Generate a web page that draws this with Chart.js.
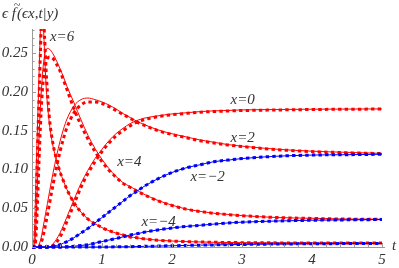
<!DOCTYPE html>
<html>
<head>
<meta charset="utf-8">
<script src="https://cdn.jsdelivr.net/npm/chart.js@4.4.1/dist/chart.umd.min.js"></script>
<style>
  html, body { margin: 0; padding: 0; background: #fff; }
  #wrap { position: relative; width: 399px; height: 268px; }
</style>
</head>
<body>
<div id="wrap"><canvas id="c"></canvas></div>
<script>
// time grid (t)
var T = [0, 0.02, 0.04, 0.06, 0.08, 0.1, 0.12, 0.14, 0.16, 0.18, 0.2, 0.22, 0.25, 0.3, 0.35, 0.4, 0.45, 0.5,
         0.6, 0.7, 0.8, 0.9, 1.0, 1.1, 1.2, 1.3, 1.4, 1.5, 1.6, 1.8, 2.0, 2.2, 2.4, 2.6, 2.8, 3.0, 3.5, 4.0, 4.5, 5.0];

// thin solid (exact) and thick dotted (approx) curves
var x6Exact  = [0, 0, 0.03, 0.10, 0.16, 0.22, 0.28, 0.31, 0.29, 0.25, 0.21, 0.185, 0.158, 0.130, 0.112, 0.097, 0.085, 0.074,
                0.057, 0.045, 0.036, 0.030, 0.025, 0.021, 0.018, 0.0155, 0.013, 0.0118, 0.0105, 0.0088, 0.0077, 0.0070, 0.0065, 0.0061, 0.0058, 0.0056, 0.0053, 0.0051, 0.0050, 0.0050];
var x6Approx = [0, 0, 0.01, 0.06, 0.13, 0.19, 0.25, 0.30, 0.30, 0.27, 0.23, 0.20, 0.165, 0.133, 0.113, 0.097, 0.085, 0.074,
                0.057, 0.045, 0.036, 0.030, 0.025, 0.021, 0.018, 0.0155, 0.013, 0.0118, 0.0105, 0.0088, 0.0077, 0.0070, 0.0065, 0.0061, 0.0058, 0.0056, 0.0053, 0.0051, 0.0050, 0.0050];
var x4Exact  = [0, 0, 0.005, 0.04, 0.09, 0.14, 0.18, 0.21, 0.233, 0.247, 0.254, 0.256, 0.255, 0.249, 0.240, 0.230, 0.219, 0.207,
                0.186, 0.164, 0.144, 0.127, 0.113, 0.101, 0.091, 0.083, 0.078, 0.073, 0.068, 0.060, 0.054, 0.049, 0.046, 0.0435, 0.042, 0.0405, 0.038, 0.037, 0.036, 0.0358];
var x4Approx = [0, 0, 0, 0.02, 0.06, 0.11, 0.155, 0.19, 0.215, 0.230, 0.239, 0.243, 0.245, 0.243, 0.236, 0.227, 0.215, 0.203,
                0.178, 0.157, 0.139, 0.123, 0.110, 0.099, 0.090, 0.082, 0.077, 0.072, 0.0675, 0.0595, 0.0535, 0.0488, 0.0458, 0.0434, 0.0418, 0.0404, 0.0380, 0.0368, 0.0360, 0.0356];
var x2Exact  = [0, 0, 0, 0, 0, 0.003, 0.008, 0.016, 0.026, 0.036, 0.046, 0.056, 0.071, 0.095, 0.117, 0.136, 0.152, 0.165,
                0.182, 0.190, 0.192, 0.190, 0.187, 0.183, 0.178, 0.172, 0.167, 0.162, 0.158, 0.151, 0.146, 0.142, 0.138, 0.135, 0.132, 0.130, 0.126, 0.1235, 0.122, 0.1207];
var x2Approx = [0, 0, 0, 0, 0, 0, 0.003, 0.008, 0.015, 0.023, 0.032, 0.041, 0.056, 0.080, 0.103, 0.123, 0.140, 0.154,
                0.173, 0.183, 0.187, 0.187, 0.185, 0.181, 0.176, 0.171, 0.166, 0.161, 0.157, 0.150, 0.145, 0.141, 0.137, 0.134, 0.1315, 0.1295, 0.1255, 0.123, 0.1215, 0.1203];
var x0Exact  = [0, 0, 0, 0, 0, 0, 0, 0, 0, 0, 0, 0, 0, 0.004, 0.010, 0.018, 0.028, 0.039,
                0.061, 0.082, 0.099, 0.114, 0.126, 0.137, 0.146, 0.153, 0.159, 0.163, 0.166, 0.169, 0.1715, 0.173, 0.1745, 0.1755, 0.176, 0.1767, 0.1772, 0.1776, 0.1778, 0.178];
var x0Approx = [0, 0, 0, 0, 0, 0, 0, 0, 0, 0, 0, 0, 0, 0.002, 0.006, 0.013, 0.022, 0.033,
                0.055, 0.077, 0.095, 0.110, 0.123, 0.134, 0.143, 0.150, 0.156, 0.161, 0.164, 0.168, 0.1705, 0.1722, 0.1737, 0.1747, 0.1753, 0.1759, 0.1766, 0.1772, 0.1776, 0.1778];
var xm2 = [0, 0, 0, 0, 0, 0, 0, 0, 0, 0, 0, 0, 0, 0.001, 0.002, 0.003, 0.005, 0.007,
           0.012, 0.018, 0.024, 0.031, 0.038, 0.045, 0.052, 0.059, 0.066, 0.072, 0.078, 0.088, 0.096, 0.102, 0.106, 0.110, 0.112, 0.114, 0.117, 0.1185, 0.119, 0.1195];
var xm4 = [0, 0, 0, 0, 0, 0, 0, 0, 0, 0, 0, 0, 0, 0, 0, 0, 0, 0.0003,
           0.001, 0.002, 0.003, 0.005, 0.007, 0.009, 0.011, 0.013, 0.0155, 0.017, 0.019, 0.022, 0.0245, 0.0265, 0.028, 0.0295, 0.031, 0.032, 0.0335, 0.0345, 0.035, 0.0354];
var xm6 = [0, 0, 0, 0, 0, 0, 0, 0, 0, 0, 0, 0, 0, 0, 0, 0, 0, 0,
           0, 0, 0, 0, 0, 0.0001, 0.0002, 0.0003, 0.0004, 0.0006, 0.0008, 0.0012, 0.0016, 0.0020, 0.0024, 0.0027, 0.0030, 0.0033, 0.0038, 0.0042, 0.0044, 0.0046];

var xTicks = [0, 1, 2, 3, 4, 5];
var yTicks = [0, 0.05, 0.10, 0.15, 0.20, 0.25];

var curveLabels = [
  { text: 'x=6',  t: 0.43, y: 0.270 },
  { text: 'x=4',  t: 1.39, y: 0.1095 },
  { text: 'x=0',  t: 3.01, y: 0.190 },
  { text: 'x=2',  t: 3.01, y: 0.1405 },
  { text: 'x=\u22122', t: 2.51, y: 0.090 },
  { text: 'x=\u22124', t: 1.81, y: 0.032 }
];

var RED = '#ff0000', BLUE = '#0000ff', AXIS = '#9a9a9a', INK = '#333';

// pick the first installed Times-like face
function pickSerif() {
  var c = document.createElement('canvas').getContext('2d');
  var probe = 'x=0.25 \u03F5f(t|y)';
  c.font = '20px monospace';
  var base = c.measureText(probe).width;
  var names = ['Liberation Serif', 'Tinos', 'Times New Roman', 'DejaVu Serif'];
  for (var i = 0; i < names.length; i++) {
    c.font = '20px "' + names[i] + '", monospace';
    if (Math.abs(c.measureText(probe).width - base) > 0.5) return '"' + names[i] + '"';
  }
  return 'serif';
}
var SERIF = pickSerif();

function pts(vals) { return T.map(function (t, i) { return { x: t, y: vals[i] }; }); }
function thin(vals, color) {
  return { data: pts(vals), borderColor: color, borderWidth: 1, pointRadius: 0,
           cubicInterpolationMode: 'monotone', clip: { left: 2, right: 4, top: 0, bottom: 3 } };
}
function dots(vals, color) {
  return { data: pts(vals), borderColor: color, borderWidth: 3, borderDash: [3.4, 3.2], borderCapStyle: 'butt',
           pointRadius: 0, cubicInterpolationMode: 'monotone', clip: { left: 2, right: 4, top: 0, bottom: 3 } };
}

var datasets = [
  thin(xm6, BLUE), dots(xm6, BLUE),
  thin(xm4, BLUE), dots(xm4, BLUE),
  thin(xm2, BLUE), dots(xm2, BLUE),
  thin(x0Exact, RED), dots(x0Approx, RED),
  thin(x2Exact, RED), dots(x2Approx, RED),
  thin(x4Exact, RED), dots(x4Approx, RED),
  thin(x6Exact, RED), dots(x6Approx, RED)
];

// inward ticks, axis title, curve labels
var decor = {
  id: 'decor',
  afterDraw: function (chart) {
    var ctx = chart.ctx, xs = chart.scales.x, ys = chart.scales.y, a = chart.chartArea;
    ctx.save();
    ctx.strokeStyle = AXIS; ctx.lineWidth = 1;
    ctx.beginPath();
    for (var k = 0; k <= 28; k++) {
      var yy = Math.round(ys.getPixelForValue(k / 100)) + 0.5;
      var len = (k % 5 === 0) ? 4 : 2.5;
      ctx.moveTo(a.left, yy); ctx.lineTo(a.left + len, yy);
    }
    for (var j = 0; j <= 25; j++) {
      var xx = Math.round(xs.getPixelForValue(j / 5)) + 0.5;
      var l2 = (j % 5 === 0) ? 4 : 2.5;
      ctx.moveTo(xx, a.bottom); ctx.lineTo(xx, a.bottom - l2);
    }
    ctx.stroke();

    ctx.fillStyle = INK;
    ctx.font = 'italic 15px ' + SERIF;
    ctx.textAlign = 'center'; ctx.textBaseline = 'middle';
    curveLabels.forEach(function (c) {
      ctx.fillText(c.text, xs.getPixelForValue(c.t), ys.getPixelForValue(c.y));
    });

    ctx.textAlign = 'left';
    ctx.fillText('t', 392, a.bottom - 1);

    // y axis title: ϵ f̃(ϵx,t|y)
    ctx.textBaseline = 'alphabetic';
    var x0 = 2, base = 18;
    ctx.fillText('\u03F5 ', x0, base);
    var w1 = ctx.measureText('\u03F5 ').width;
    ctx.fillText('f', x0 + w1, base);
    var wf = ctx.measureText('f').width;
    ctx.font = 'italic 12px ' + SERIF;
    ctx.fillText('~', x0 + w1 + 2, base - 9);
    ctx.font = 'italic 15px ' + SERIF;
    ctx.fillText('(\u03F5x,t|y)', x0 + w1 + wf + 1, base);
    ctx.restore();
  }
};

new Chart(document.getElementById('c'), {
  type: 'line',
  data: { datasets: datasets },
  options: {
    responsive: true, maintainAspectRatio: false, animation: false,
    layout: { padding: { top: 29, right: 15, left: 0, bottom: 0 } },
    plugins: { legend: { display: false }, tooltip: { enabled: false } },
    scales: {
      x: {
        type: 'linear', min: 0, max: 5.03,
        grid: { display: false, drawTicks: false },
        border: { display: true, color: AXIS, width: 1 },
        afterBuildTicks: function (s) { s.ticks = xTicks.map(function (v) { return { value: v }; }); },
        afterFit: function (s) { s.height = 21; },
        ticks: { padding: 4, color: INK, maxRotation: 0, font: { family: SERIF, style: 'italic', size: 15 },
                 callback: function (v) { return String(v); } }
      },
      y: {
        type: 'linear', min: 0, max: 0.281,
        grid: { display: false, drawTicks: false },
        border: { display: true, color: AXIS, width: 1 },
        afterBuildTicks: function (s) { s.ticks = yTicks.map(function (v) { return { value: v }; }); },
        afterFit: function (s) { s.width = 32; },
        ticks: { padding: 4, color: INK, font: { family: SERIF, style: 'italic', size: 15 },
                 callback: function (v) { return v.toFixed(2); } }
      }
    }
  },
  plugins: [decor]
});
</script>
</body>
</html>
